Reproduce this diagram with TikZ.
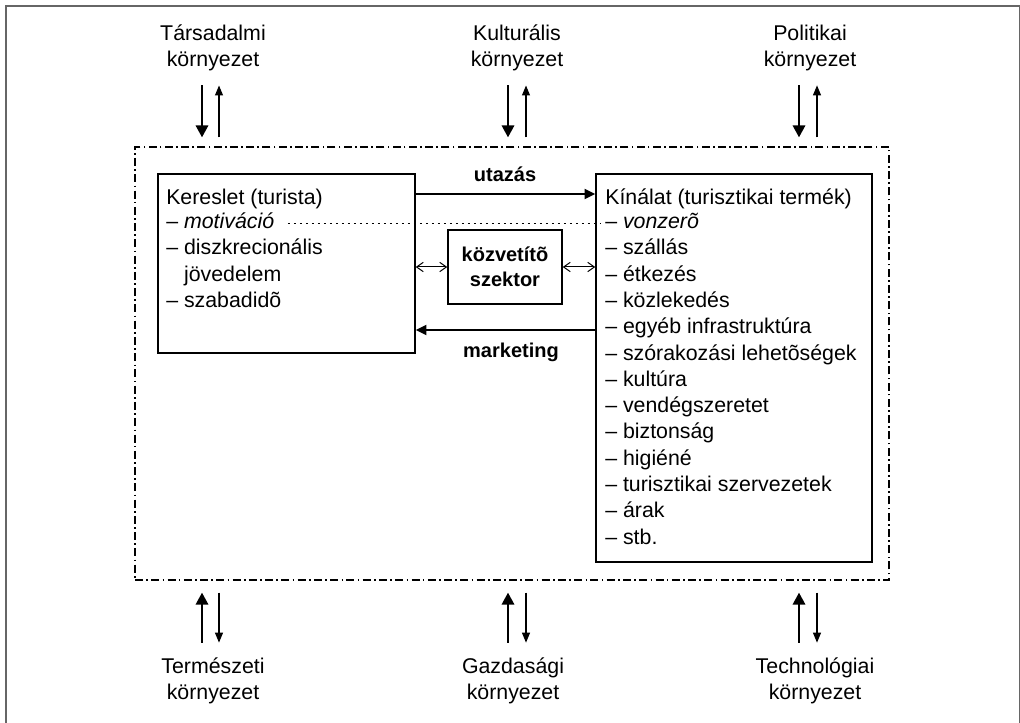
\documentclass[tikz,border=0pt]{standalone}
\usepackage{fontspec}
\setmainfont{Liberation Sans}
\usetikzlibrary{positioning, arrows.meta, calc}

\tikzset{
  boxnode/.style={draw, line width=1.1pt, inner sep=0pt},
  envbox/.style={draw, line width=0.8pt, dash pattern=on 6pt off 2.5pt on 1.2pt off 2.5pt},
  listitem/.style={font=\fontsize{16}{19.7}\selectfont, inner sep=0pt, anchor=base west},
  envlabel/.style={font=\fontsize{16}{19.5}\selectfont, align=center, inner sep=0pt},
  flowlabel/.style={font=\bfseries\fontsize{15}{18}\selectfont, inner sep=0pt, anchor=base},
  flowarrow/.style={line width=1.5pt, -{Triangle[length=8pt,width=7.5pt]}},
  linkarrow/.style={line width=0.75pt, {Straight Barb[length=5pt,width=7pt]}-{Straight Barb[length=5pt,width=7pt]}},
  envin/.style={line width=2.2pt, -{Triangle[length=9pt,width=9pt]}},
  envout/.style={line width=0.8pt, -{Triangle[length=7.5pt,width=6pt]}},
  dotline/.style={line width=0.75pt, dash pattern=on 1.5pt off 3pt}
}

\begin{document}
\begin{tikzpicture}[x=0.75pt, y=-0.75pt]
  \useasboundingbox (0,0) rectangle (1020,723);
  \draw[black!60, line width=1.5pt] (6,740) -- (6,6) -- (1019.5,6) -- (1019.5,740);

  % environment frame
  \node[envbox, minimum width=565.5pt, minimum height=324.75pt] (env) at (512,363.5) {};

  % demand and supply boxes
  \node[boxnode, minimum width=192.75pt, minimum height=134.25pt] (ker) at (286.5,263.5) {};
  \node[boxnode, minimum width=207pt, minimum height=291pt] (kin) at (734,368) {};
  \node[boxnode, minimum width=85.5pt, minimum height=55.5pt, align=center,
        font=\bfseries\fontsize{15}{18.75}\selectfont] (mid) at (505,267) {közvetítõ\\szektor};

  % box texts
  \node[listitem] (kertitle) at (166,205) {Kereslet (turista)};
  \foreach \txt [count=\i] in {{-- \textit{motiváció}}, {-- diszkrecionális},
      {\hphantom{--~}jövedelem}, {-- szabadidõ}}
    \node[listitem] (ker\i) at (166,{228.5+26.3*(\i-1)}) {\txt};

  \node[listitem] (kintitle) at (605,205) {Kínálat (turisztikai termék)};
  \foreach \txt [count=\i] in {{\textit{vonzerõ}}, szállás, étkezés, közlekedés,
      egyéb infrastruktúra, szórakozási lehetõségek, kultúra, vendégszeretet,
      biztonság, higiéné, turisztikai szervezetek, árak, stb.}
    \node[listitem] (kin\i) at (605,{228.5+26.3*(\i-1)}) {-- \txt};

  \draw[dotline, shorten <=10pt, shorten >=3.5pt] ($(ker1.base east)+(0,-5)$) -- ($(kin1.base west)+(0,-5)$);

  % flows between the boxes
  \draw[flowarrow] (ker.east |- 0,194) -- (kin.west |- 0,194);
  \node[flowlabel] (utazas) at (505,182) {utazás};
  \draw[flowarrow] (kin.west |- 0,330) -- (ker.east |- 0,330);
  \node[flowlabel] (marketing) at (511,357) {marketing};
  \draw[linkarrow] (ker.east |- mid.west) -- (mid.west);
  \draw[linkarrow] (mid.east) -- (kin.west |- mid.east);

  % environments
  \foreach \nm/\x/\xa/\xb/\txt in {tars/213/202/219/Társadalmi, kult/517/508/526/Kulturális,
      pol/810/799/817/Politikai}{
    \node[envlabel] (\nm) at (\x,47.5) {\txt\\környezet};
    \draw[envin, shorten <=11pt, shorten >=6.75pt] (\nm.south -| \xa,0) -- (env.north -| \xa,0);
    \draw[envout, shorten <=6.75pt, shorten >=11pt] (env.north -| \xb,0) -- (\nm.south -| \xb,0);
  }
  \foreach \nm/\x/\xa/\xb/\txt in {term/213/202/219/Természeti, gazd/513/508/526/Gazdasági,
      tech/815/799/817/Technológiai}{
    \node[envlabel] (\nm) at (\x,680.5) {\txt\\környezet};
    \draw[envin, shorten <=10.9pt, shorten >=9pt] (\nm.north -| \xa,0) -- (env.south -| \xa,0);
    \draw[envout, shorten <=9pt, shorten >=10.9pt] (env.south -| \xb,0) -- (\nm.north -| \xb,0);
  }
\end{tikzpicture}
\end{document}
